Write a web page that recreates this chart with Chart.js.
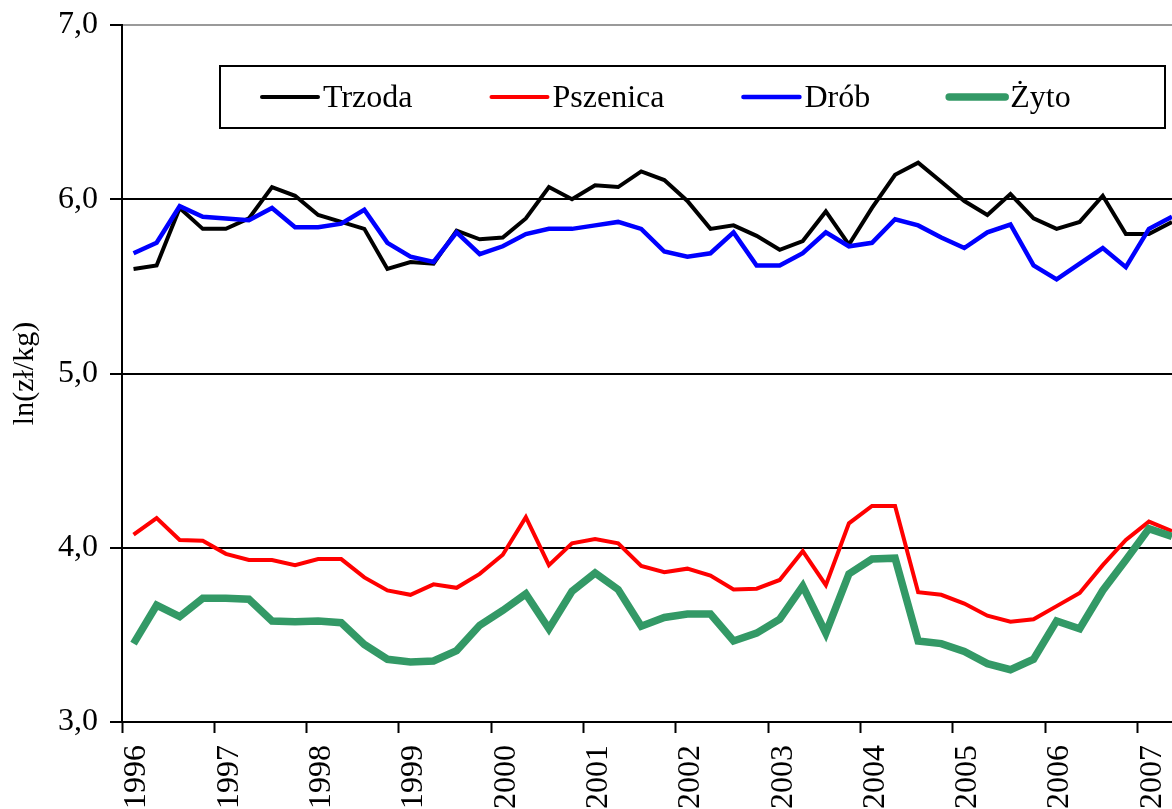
<!DOCTYPE html>
<html>
<head>
<meta charset="utf-8">
<script src="https://cdn.jsdelivr.net/npm/chart.js@4"></script>
<style>
  body { margin: 0; background: #fff; }
  .wykres { width: 1172px; height: 809px; }
</style>
</head>
<body>
<div class="wykres"><canvas id="ceny"></canvas></div>
<script>
// kwartalne logarytmy cen, od I kw. 1996
const lata = ['1996', '1997', '1998', '1999', '2000', '2001', '2002', '2003', '2004', '2005', '2006', '2007'];
const seriaNazwy = ['Trzoda', 'Pszenica', 'Drób', 'Żyto'];

const trzoda = [5.60, 5.62, 5.95, 5.83, 5.83, 5.89, 6.07, 6.02, 5.91, 5.87, 5.83, 5.60,
  5.64, 5.63, 5.82, 5.77, 5.78, 5.89, 6.07, 6.00, 6.08, 6.07, 6.16, 6.11,
  5.99, 5.83, 5.85, 5.79, 5.71, 5.76, 5.93, 5.74, 5.95, 6.14, 6.21, 6.10,
  5.99, 5.91, 6.03, 5.89, 5.83, 5.87, 6.02, 5.80, 5.80, 5.87];
const pszenica = [4.075, 4.17, 4.045, 4.04, 3.965, 3.93, 3.93, 3.90, 3.935, 3.935, 3.83, 3.755,
  3.73, 3.79, 3.77, 3.85, 3.96, 4.175, 3.90, 4.025, 4.05, 4.025, 3.895, 3.86,
  3.88, 3.84, 3.76, 3.765, 3.815, 3.98, 3.785, 4.14, 4.24, 4.24, 3.745, 3.73,
  3.68, 3.61, 3.575, 3.59, 3.665, 3.74, 3.90, 4.045, 4.15, 4.095];
const drob = [5.69, 5.75, 5.96, 5.90, 5.89, 5.88, 5.95, 5.84, 5.84, 5.86, 5.94, 5.75,
  5.67, 5.64, 5.81, 5.685, 5.73, 5.80, 5.83, 5.83, 5.85, 5.87, 5.83, 5.70,
  5.67, 5.69, 5.81, 5.62, 5.62, 5.69, 5.81, 5.73, 5.75, 5.885, 5.85, 5.78,
  5.72, 5.81, 5.855, 5.62, 5.54, 5.63, 5.72, 5.61, 5.83, 5.90];
const zyto = [3.45, 3.67, 3.605, 3.71, 3.71, 3.705, 3.58, 3.575, 3.58, 3.57, 3.445, 3.36,
  3.345, 3.35, 3.41, 3.555, 3.64, 3.735, 3.535, 3.75, 3.855, 3.76, 3.55, 3.60,
  3.62, 3.62, 3.465, 3.51, 3.59, 3.78, 3.51, 3.85, 3.935, 3.94, 3.465, 3.45,
  3.405, 3.335, 3.30, 3.36, 3.58, 3.535, 3.755, 3.93, 4.11, 4.065];

const yTicks = [3, 4, 5, 6, 7];

const kolory = ['#000000', '#ff0000', '#0000ff', '#339966'];
const grubosci = [4, 4, 4.5, 7.5];

// punkt w srodku kwartalu
const punkty = arr => arr.map((v, i) => ({ x: i + 0.5, y: v }));

Chart.defaults.font.family = '"Liberation Serif", "Times New Roman", serif';
Chart.defaults.font.size = 32;
Chart.defaults.color = '#000';

const legendaWRamce = {
  id: 'legendaWRamce',
  afterDraw(chart) {
    const { ctx, chartArea } = chart;
    const bx = chartArea.left + 98, by = chartArea.top + 41, bw = 945, bh = 62;
    ctx.save();
    ctx.fillStyle = '#fff';
    ctx.fillRect(bx, by, bw, bh);
    ctx.strokeStyle = '#000';
    ctx.lineWidth = 2;
    ctx.strokeRect(bx, by, bw, bh);
    ctx.font = '32px "Liberation Serif", serif';
    ctx.textBaseline = 'middle';
    const cy = by + bh / 2;
    let x = bx + 42;
    chart.data.datasets.forEach(ds => {
      ctx.strokeStyle = ds.borderColor;
      ctx.lineWidth = ds.borderWidth;
      ctx.lineCap = 'round';
      ctx.beginPath();
      ctx.moveTo(x, cy);
      ctx.lineTo(x + 56, cy);
      ctx.stroke();
      ctx.fillStyle = '#000';
      ctx.fillText(ds.label, x + 61, cy + 2);
      x += 61 + ctx.measureText(ds.label).width + 79;
    });
    ctx.restore();
  }
};

const dane = [trzoda, pszenica, drob, zyto];

new Chart(document.getElementById('ceny'), {
  type: 'line',
  data: {
    datasets: dane.map((d, k) => ({
      label: seriaNazwy[k],
      data: punkty(d),
      borderColor: kolory[k],
      backgroundColor: kolory[k],
      borderWidth: grubosci[k],
      pointRadius: 0,
      tension: 0,
      order: 4 - k
    }))
  },
  options: {
    responsive: true,
    maintainAspectRatio: false,
    animation: false,
    layout: { padding: { top: 25, right: 0, left: 0, bottom: 0 } },
    plugins: {
      legend: { display: false },
      tooltip: { enabled: false }
    },
    scales: {
      x: {
        type: 'linear',
        min: 0,
        max: 45.5,
        afterBuildTicks: s => { s.ticks = lata.map((r, k) => ({ value: k * 4 })); },
        afterFit: s => { s.height = 87; s.paddingLeft = 0; s.paddingRight = 0; },
        border: { color: '#000', width: 2 },
        grid: { drawOnChartArea: false, drawTicks: true, tickLength: 11, tickColor: '#000', tickWidth: 2 },
        ticks: {
          autoSkip: false,
          minRotation: 90,
          maxRotation: 90,
          padding: 12,
          labelOffset: 15,
          callback: v => lata[Math.round(v / 4)]
        }
      },
      y: {
        min: 3,
        max: 7,
        afterBuildTicks: s => { s.ticks = yTicks.map(v => ({ value: v })); },
        afterFit: s => { s.width = 122; s.paddingTop = 0; s.paddingBottom = 0; },
        border: { color: '#000', width: 2 },
        grid: {
          color: c => (c.tick && c.tick.value === 7 ? '#9a9a9a' : '#000'),
          lineWidth: 2,
          tickLength: 12,
          tickColor: '#000',
          tickWidth: 2
        },
        ticks: {
          padding: 12,
          callback: v => v.toFixed(1).replace('.', ',')
        },
        title: {
          display: true,
          text: 'ln(zł/kg)',
          font: { size: 30 },
          padding: { top: 7, bottom: 0 }
        }
      }
    }
  },
  plugins: [legendaWRamce]
});
</script>
</body>
</html>
